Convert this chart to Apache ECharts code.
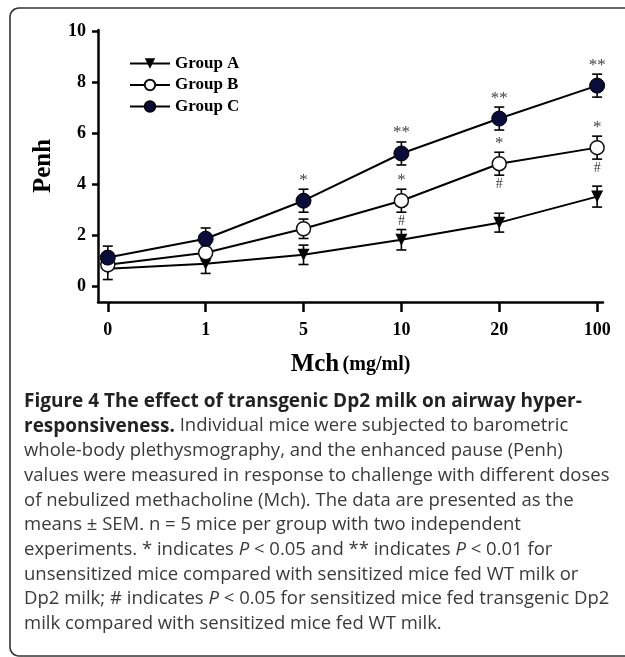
<!DOCTYPE html>
<html>
<head>
<meta charset="utf-8">
<script src="https://cdn.jsdelivr.net/npm/echarts@6/dist/echarts.min.js"></script>
<style>
html, body { margin: 0; padding: 0; background: #fff; }
#chart { width: 625px; height: 657px; }
</style>
</head>
<body>
<div id="chart"></div>
<script>
// doses of Mch (mg/ml), shown as evenly spaced categories
var doses = ['0', '1', '5', '10', '20', '100'];
var yTicks = [0, 2, 4, 6, 8, 10];

// Penh means and SEM
var groupA = [0.70, 0.90, 1.25, 1.84, 2.51, 3.53];
var errA = [0.42, 0.38, 0.38, 0.40, 0.37, 0.41];
var groupB = [0.86, 1.33, 2.27, 3.37, 4.82, 5.45];
var errB = [0.20, 0.30, 0.38, 0.45, 0.45, 0.45];
var groupC = [1.14, 1.88, 3.37, 5.22, 6.59, 7.88];
var errC = [0.45, 0.42, 0.45, 0.45, 0.45, 0.45];

// significance marks
var marksC = ['', '', '*', '**', '**', '**'];
var marksB = ['', '', '', '*', '*', '*'];
var hashB = ['', '', '', '#', '#', '#'];

var captionLines = [
    [['b', 'Figure 4 The effect of transgenic Dp2 milk on airway hyper-']],
    [['b', 'responsiveness.'], ['n', ' Individual mice were subjected to barometric']],
    [['n', 'whole-body plethysmography, and the enhanced pause (Penh)']],
    [['n', 'values were measured in response to challenge with different doses']],
    [['n', 'of nebulized methacholine (Mch). The data are presented as the']],
    [['n', 'means \u00b1 SEM. n = 5 mice per group with two independent']],
    [['n', 'experiments. * indicates '], ['i', 'P'], ['n', ' < 0.05 and ** indicates '], ['i', 'P'], ['n', ' < 0.01 for']],
    [['n', 'unsensitized mice compared with sensitized mice fed WT milk or']],
    [['n', 'Dp2 milk; # indicates '], ['i', 'P'], ['n', ' < 0.05 for sensitized mice fed transgenic Dp2']],
    [['n', 'milk compared with sensitized mice fed WT milk.']]
];

var serif = '"Liberation Serif", "Times New Roman", serif';
var sans = '"Open Sans", "Noto Sans", sans-serif';

function toPoints(vals) {
    return vals.map(function(v, i) { return [i, v]; });
}

function errorSeries(means, errs, above, below) {
    return {
        type: 'custom',
        z: 1,
        silent: true,
        data: means.map(function(m, i) { return [i, m - errs[i], m + errs[i]]; }),
        renderItem: function(params, api) {
            var i = params.dataIndex;
            var top = api.coord([api.value(0), api.value(2)]);
            var bot = api.coord([api.value(0), api.value(1)]);
            var w = 5;
            var st = { stroke: '#000', lineWidth: 1.6 };
            var kids = [
                { type: 'line', shape: { x1: top[0], y1: top[1], x2: bot[0], y2: bot[1] }, style: st },
                { type: 'line', shape: { x1: top[0] - w, y1: top[1], x2: top[0] + w, y2: top[1] }, style: st },
                { type: 'line', shape: { x1: bot[0] - w, y1: bot[1], x2: bot[0] + w, y2: bot[1] }, style: st }
            ];
            if (above && above[i]) {
                kids.push({ type: 'text', x: top[0], y: top[1] - 9,
                    style: { text: above[i], font: '17px ' + serif, fill: '#444', align: 'center', verticalAlign: 'middle' } });
            }
            if (below && below[i]) {
                kids.push({ type: 'text', x: bot[0], y: bot[1] + 9,
                    style: { text: below[i], font: '14px ' + serif, fill: '#444', align: 'center', verticalAlign: 'middle' } });
            }
            return { type: 'group', children: kids };
        }
    };
}

// frame: top edge, left edge, rounded left corners (right side is off the page)
var framePts = [[640, 8]];
var rr = 9;
for (var a = 0; a <= 8; a++) {
    var t = Math.PI / 2 * a / 8;
    framePts.push([10 + rr - rr * Math.sin(t), 8 + rr - rr * Math.cos(t)]);
}
for (var a2 = 0; a2 <= 8; a2++) {
    var t2 = Math.PI / 2 * a2 / 8;
    framePts.push([10 + rr - rr * Math.cos(t2), 656 - rr + rr * Math.sin(t2)]);
}
framePts.push([640, 656]);

var graphics = [{
    type: 'polyline',
    shape: { points: framePts },
    style: { fill: 'none', stroke: '#333', lineWidth: 1.6 },
    silent: true
}];
captionLines.forEach(function(line, k) {
    var txt = line.map(function(seg) { return '{' + seg[0] + '|' + seg[1] + '}'; }).join('');
    graphics.push({
        type: 'text',
        left: 24,
        top: 392 + k * 24.7,
        style: {
            text: txt,
            rich: {
                b: { font: 'bold 19px ' + sans, fill: '#222' },
                n: { font: '18.5px ' + sans, fill: '#3a3a3a' },
                i: { font: 'italic 18.5px ' + sans, fill: '#3a3a3a' }
            }
        }
    });
});

var myChart = echarts.init(document.getElementById('chart'));

option = {
    backgroundColor: '#fff',
    animation: false,
    grid: { left: 98, right: 22, top: 30, bottom: 355 },
    legend: {
        orient: 'vertical',
        left: 124,
        top: 50,
        itemWidth: 40,
        itemHeight: 13,
        itemGap: 4.5,
        textStyle: { fontFamily: serif, fontWeight: 'bold', fontSize: 17, color: '#000' },
        data: ['Group A', 'Group B', 'Group C']
    },
    xAxis: {
        type: 'value',
        min: -0.1,
        max: 5.06,
        splitLine: { show: false },
        axisLine: { onZero: false, lineStyle: { color: '#000', width: 2.5 } },
        axisTick: { customValues: [0, 1, 2, 3, 4, 5], length: 10, lineStyle: { color: '#000', width: 2.5 } },
        axisLabel: {
            customValues: [0, 1, 2, 3, 4, 5],
            margin: 19,
            fontFamily: serif, fontWeight: 'bold', fontSize: 18, color: '#000',
            formatter: function(v) { return doses[Math.round(v)]; }
        },
        name: '{a|Mch} {b|(mg/ml)}',
        nameLocation: 'middle',
        nameGap: 50,
        nameTextStyle: {
            rich: {
                a: { fontFamily: serif, fontWeight: 'bold', fontSize: 25, color: '#000' },
                b: { fontFamily: serif, fontWeight: 'bold', fontSize: 20, color: '#000' }
            }
        }
    },
    yAxis: {
        type: 'value',
        min: -0.6,
        max: 10.06,
        splitLine: { show: false },
        axisLine: { onZero: false, lineStyle: { color: '#000', width: 2.5 } },
        axisTick: { customValues: yTicks, length: 6, lineStyle: { color: '#000', width: 2.5 } },
        axisLabel: {
            customValues: yTicks,
            margin: 12,
            fontFamily: serif, fontWeight: 'bold', fontSize: 18, color: '#000'
        },
        name: 'Penh',
        nameLocation: 'middle',
        nameGap: 42,
        nameTextStyle: { fontFamily: serif, fontWeight: 'bold', fontSize: 25, color: '#000' }
    },
    graphic: graphics,
    series: [
        errorSeries(groupA, errA),
        errorSeries(groupB, errB, marksB, hashB),
        errorSeries(groupC, errC, marksC),
        {
            name: 'Group A', type: 'line', z: 3, data: toPoints(groupA),
            symbol: 'triangle', symbolRotate: 180, symbolSize: 12,
            lineStyle: { color: '#000', width: 2 },
            itemStyle: { color: '#000', borderColor: '#000', borderWidth: 0 }
        },
        {
            name: 'Group B', type: 'line', z: 3, data: toPoints(groupB),
            symbol: 'circle', symbolSize: 14,
            lineStyle: { color: '#000', width: 2 },
            itemStyle: { color: '#fff', borderColor: '#111', borderWidth: 1.5 }
        },
        {
            name: 'Group C', type: 'line', z: 3, data: toPoints(groupC),
            symbol: 'circle', symbolSize: 15,
            lineStyle: { color: '#000', width: 2 },
            itemStyle: { color: '#0a0c3a', borderColor: '#000', borderWidth: 1 }
        }
    ]
};

myChart.setOption(option);
</script>
</body>
</html>
